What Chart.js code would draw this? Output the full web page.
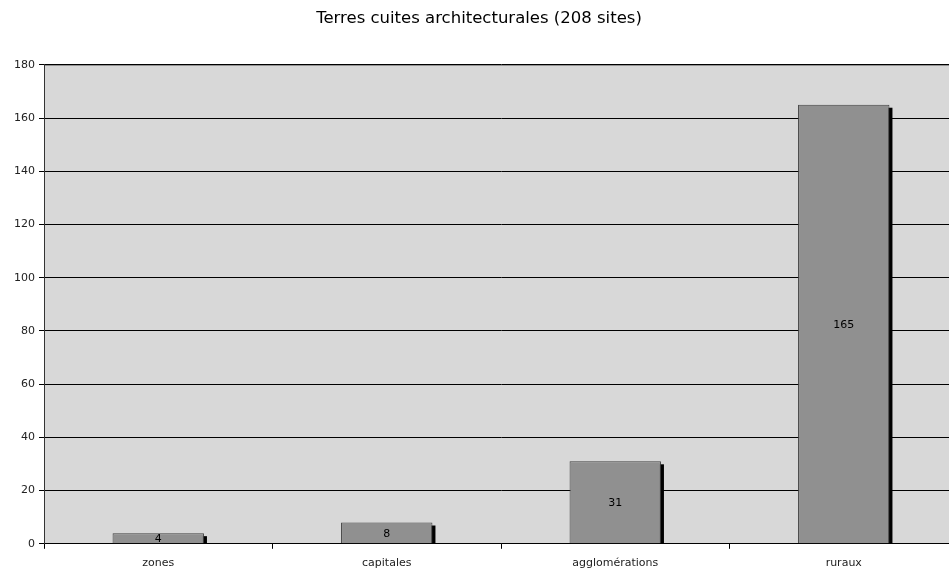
<!DOCTYPE html>
<html lang="fr">
<head>
<meta charset="UTF-8">
<title>Terres cuites architecturales</title>
<script src="https://cdn.jsdelivr.net/npm/chart.js"></script>
<style>
  html, body { margin: 0; padding: 0; background: #fff; }
  /* la zone de tracé déborde un peu à droite et en bas, comme dans l'original */
  .chart-container { position: relative; width: 949px; height: 575px; overflow: hidden; }
</style>
</head>
<body>
<div class="chart-container">
  <canvas id="barChart" width="958" height="578"></canvas>
</div>
<script>
// données du graphique
const categories = ['zones', 'capitales', 'agglomérations', 'ruraux'];
const sites = [4, 8, 31, 165];
const yTicks = [0, 20, 40, 60, 80, 100, 120, 140, 160, 180];
const chartTitle = 'Terres cuites architecturales (208 sites)';

// fond gris de la zone de tracé
const plotBg = {
  id: 'plotBg',
  beforeDraw(chart) {
    const a = chart.chartArea, c = chart.ctx;
    c.save();
    c.fillStyle = '#d8d8d8';
    c.fillRect(a.left, a.top, a.right - a.left, a.bottom - a.top);
    c.strokeStyle = '#808080';
    c.lineWidth = 1;
    c.beginPath();
    c.moveTo(a.left, a.top + 0.5);
    c.lineTo(a.right, a.top + 0.5);
    c.stroke();
    c.restore();
  }
};

// ombre noire à droite des barres
const barShadow = {
  id: 'barShadow',
  beforeDatasetsDraw(chart) {
    const c = chart.ctx;
    c.save();
    c.fillStyle = '#000';
    chart.getDatasetMeta(0).data.forEach(bar => {
      const w = bar.width;
      c.fillRect(bar.x - w / 2 + 3, bar.y + 3, w, bar.base - bar.y - 3);
    });
    c.restore();
  }
};

// valeurs au centre des barres
const valueLabels = {
  id: 'valueLabels',
  afterDatasetsDraw(chart) {
    const c = chart.ctx;
    c.save();
    c.fillStyle = '#000';
    c.font = '11px "DejaVu Sans", Verdana, sans-serif';
    c.textAlign = 'center';
    c.textBaseline = 'middle';
    chart.getDatasetMeta(0).data.forEach((bar, i) => {
      c.fillText(sites[i], bar.x, (bar.y + bar.base) / 2 + 1);
    });
    c.restore();
  }
};

const ctx = document.getElementById('barChart').getContext('2d');
new Chart(ctx, {
  type: 'bar',
  data: {
    labels: categories,
    datasets: [{
      data: sites,
      backgroundColor: '#909090',
      borderColor: '#404040',
      borderWidth: 1,
      barPercentage: 0.8,
      categoryPercentage: 0.5
    }]
  },
  options: {
    responsive: false,
    animation: false,
    layout: { padding: { left: 0, right: 0, top: 7, bottom: 0 } },
    plugins: {
      legend: { display: false },
      tooltip: { enabled: false },
      title: {
        display: true,
        text: chartTitle,
        color: '#000',
        font: { family: '"DejaVu Sans", Verdana, sans-serif', size: 16.5, weight: 'normal' },
        padding: { top: 2, bottom: 36 }
      }
    },
    scales: {
      x: {
        offset: true,
        grid: { offset: true, drawOnChartArea: false, drawTicks: true, tickLength: 5, color: '#000' },
        border: { color: '#000' },
        ticks: {
          color: '#222',
          padding: 8,
          font: { family: '"DejaVu Sans", Verdana, sans-serif', size: 11 }
        }
      },
      y: {
        min: 0,
        max: 180,
        afterBuildTicks: axis => { axis.ticks = yTicks.map(v => ({ value: v })); },
        afterFit: axis => { axis.width = 44; },
        grid: { color: '#000', tickLength: 5 },
        border: { color: '#333' },
        ticks: {
          color: '#222',
          padding: 4,
          font: { family: '"DejaVu Sans", Verdana, sans-serif', size: 11 }
        }
      }
    }
  },
  plugins: [plotBg, barShadow, valueLabels]
});
</script>
</body>
</html>
